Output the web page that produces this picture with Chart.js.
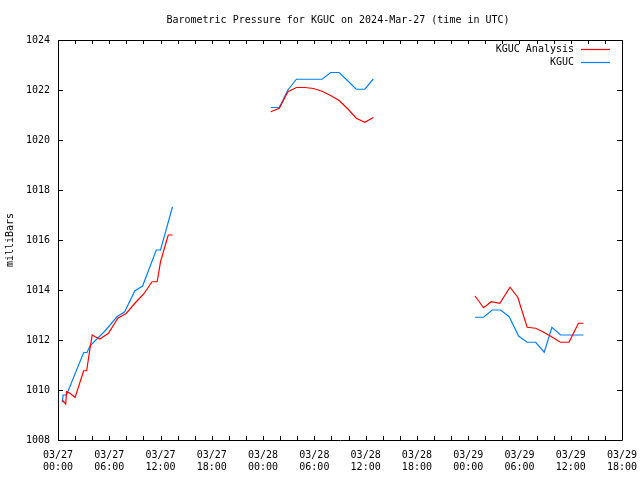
<!DOCTYPE html>
<html>
<head>
<meta charset="utf-8">
<script src="https://cdn.jsdelivr.net/npm/chart.js@4/dist/chart.umd.min.js"></script>
<style>
  html, body { margin: 0; padding: 0; background: #fff; }
  #wrap { width: 640px; height: 480px; }
</style>
</head>
<body>
<div id="wrap"><canvas id="pressChart" width="640" height="480"></canvas></div>
<script>
// heures depuis 2024-03-27 00:00 UTC, null = trou dans la courbe
var hoursKguc = [0.5, 0.6, 1.0, 3.0, 3.4, 3.75, 5.5, 6.9, 7.8, 9.0, 9.9, 11.5, 12.0, 13.4,
    20,
    24.9, 25.9, 26.9, 27.9, 28.9, 29.9, 30.9, 31.9, 32.9, 33.9, 34.9, 35.9, 36.9,
    44,
    48.8, 49.8, 50.8, 51.8, 52.8, 53.9, 54.9, 55.9, 56.9, 57.8, 58.8, 59.8, 60.8, 61.5];
var kguc = [1009.5, 1009.8, 1009.8, 1011.5, 1011.5, 1011.77, 1012.36, 1012.93, 1013.13, 1013.97, 1014.16, 1015.6, 1015.6, 1017.33,
    null,
    1021.3, 1021.3, 1022.0, 1022.43, 1022.43, 1022.43, 1022.43, 1022.7, 1022.7, 1022.37, 1022.03, 1022.03, 1022.44,
    null,
    1012.91, 1012.91, 1013.2, 1013.2, 1012.93, 1012.16, 1011.91, 1011.91, 1011.51, 1012.51, 1012.2, 1012.2, 1012.2, 1012.2];

var hoursAnalysis = [0.5, 0.9, 1.0, 1.4, 2.0, 3.0, 3.35, 3.75, 4.0, 4.35, 4.9, 5.9, 7.0, 8.0, 9.0, 10.1, 11.0, 11.6, 12.0, 12.9, 13.4,
    20,
    24.9, 25.9, 26.9, 27.9, 28.9, 29.9, 30.9, 31.9, 32.9, 33.9, 34.9, 35.9, 36.9,
    44,
    48.8, 49.8, 50.7, 51.7, 52.9, 53.8, 54.9, 55.9, 56.9, 57.9, 58.8, 59.8, 60.9, 61.5];
var analysis = [1009.6, 1009.44, 1009.93, 1009.87, 1009.7, 1010.77, 1010.77, 1011.67, 1012.2, 1012.13, 1012.04, 1012.27, 1012.87, 1013.07, 1013.47, 1013.87, 1014.33, 1014.33, 1015.13, 1016.2, 1016.2,
    null,
    1021.13, 1021.27, 1021.93, 1022.1, 1022.1, 1022.06, 1021.95, 1021.78, 1021.58, 1021.25, 1020.87, 1020.71, 1020.9,
    null,
    1013.76, 1013.29, 1013.53, 1013.47, 1014.11, 1013.71, 1012.51, 1012.47, 1012.3, 1012.1, 1011.91, 1011.91, 1012.67, 1012.67];

var seriesNames = ['KGUC Analysis', 'KGUC'];
var seriesColors = ['#ff0000', '#0080ff'];
var chartTitle = 'Barometric Pressure for KGUC on 2024-Mar-27 (time in UTC)';

var FONT = '"DejaVu Sans Mono", "Liberation Mono", monospace';

function toPoints(xs, ys) {
    return xs.map(function(x, i) { return { x: x, y: ys[i] }; });
}

function tickLabel(v) {
    var day = 27 + Math.floor(v / 24);
    var h = v % 24;
    return ['03/' + day, (h < 10 ? '0' : '') + h + ':00'];
}

// cadre + graduations vers l'intérieur + titre et légende à la gnuplot
var gnuplotFrame = {
    id: 'gnuplotFrame',
    afterDraw: function(chart) {
        var c = chart.ctx, a = chart.chartArea;
        var xs = chart.scales.x, ys = chart.scales.y;
        c.save();
        c.strokeStyle = '#000';
        c.lineWidth = 1;
        c.beginPath();
        c.rect(a.left + 0.5, a.top + 0.5, a.right - a.left, a.bottom - a.top);
        for (var h = 0; h <= 66; h += 2) {
            var px = Math.round(xs.getPixelForValue(h)) + 0.5;
            c.moveTo(px, a.bottom); c.lineTo(px, a.bottom - 4);
            c.moveTo(px, a.top); c.lineTo(px, a.top + 4);
        }
        for (var p = 1008; p <= 1024; p += 2) {
            var py = Math.round(ys.getPixelForValue(p)) + 0.5;
            c.moveTo(a.left, py); c.lineTo(a.left + 5, py);
            c.moveTo(a.right, py); c.lineTo(a.right - 5, py);
        }
        c.stroke();

        c.font = '10px ' + FONT;
        c.fillStyle = '#000';
        c.textAlign = 'center';
        c.textBaseline = 'middle';
        c.fillText(chartTitle, 338, 20);

        c.textAlign = 'right';
        c.lineWidth = 1.2;
        for (var i = 0; i < seriesNames.length; i++) {
            var ly = 49 + i * 13 + 0.5;
            c.fillStyle = '#000';
            c.fillText(seriesNames[i], 574, ly);
            c.strokeStyle = seriesColors[i];
            c.beginPath();
            c.moveTo(581, ly); c.lineTo(610, ly);
            c.stroke();
        }
        c.restore();
    }
};

var ctx = document.getElementById('pressChart').getContext('2d');
var pressChart = new Chart(ctx, {
    type: 'line',
    data: {
        datasets: [{
            label: seriesNames[0],
            data: toPoints(hoursAnalysis, analysis),
            borderColor: seriesColors[0],
            borderWidth: 1.2,
            pointRadius: 0,
            fill: false,
            spanGaps: false,
            tension: 0
        }, {
            label: seriesNames[1],
            data: toPoints(hoursKguc, kguc),
            borderColor: seriesColors[1],
            borderWidth: 1.2,
            pointRadius: 0,
            fill: false,
            spanGaps: false,
            tension: 0
        }]
    },
    options: {
        responsive: false,
        animation: false,
        layout: { padding: { left: 0, right: 18, top: 40, bottom: 0 } },
        plugins: {
            legend: { display: false },
            tooltip: { enabled: false },
            title: { display: false }
        },
        scales: {
            x: {
                type: 'linear',
                min: 0,
                max: 66,
                grid: { display: false, drawTicks: false },
                border: { display: false },
                afterFit: function(s) {
                    s.height = 40;
                    s.paddingLeft = 0;
                    s.paddingRight = 0;
                },
                afterBuildTicks: function(s) {
                    s.ticks = [];
                    for (var h = 0; h <= 66; h += 6) s.ticks.push({ value: h });
                },
                ticks: {
                    autoSkip: false,
                    maxRotation: 0,
                    padding: 9,
                    color: '#000',
                    font: { family: FONT, size: 10, lineHeight: 1.2 },
                    callback: function(v) { return tickLabel(v); }
                }
            },
            y: {
                min: 1008,
                max: 1024,
                grid: { display: false, drawTicks: false },
                border: { display: false },
                afterFit: function(s) { s.width = 58; },
                ticks: {
                    stepSize: 2,
                    padding: 8,
                    color: '#000',
                    font: { family: FONT, size: 10 },
                    callback: function(v) { return String(v); }
                },
                title: {
                    display: true,
                    text: 'milliBars',
                    color: '#000',
                    font: { family: FONT, size: 10 },
                    padding: { top: 4, bottom: 0 }
                }
            }
        }
    },
    plugins: [gnuplotFrame]
});
</script>
</body>
</html>
